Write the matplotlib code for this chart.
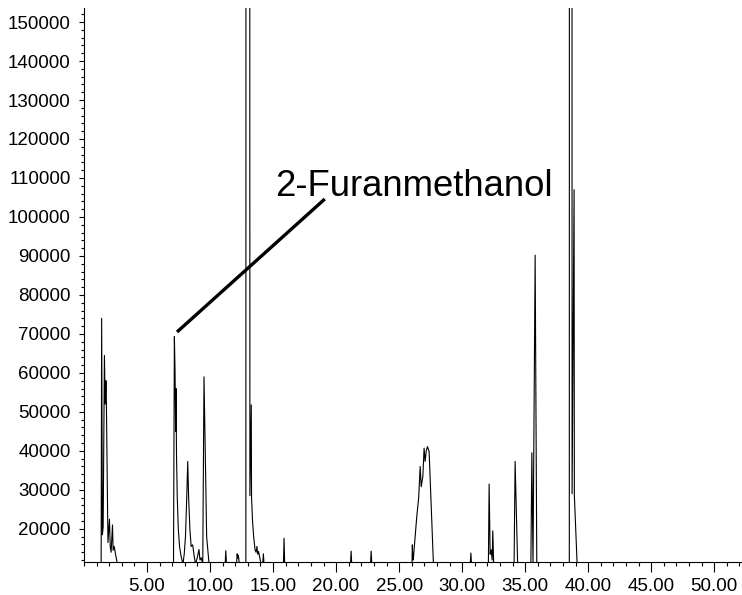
import matplotlib
matplotlib.use("Agg")
import matplotlib.pyplot as plt
from matplotlib.ticker import MultipleLocator, FormatStrFormatter

plt.rcParams.update({
    "font.family": ["Liberation Sans", "DejaVu Sans"],
    "font.size": 13.5,
})

# ── Data (retention time in min, abundance) ───────────────────────────────────
BASE = 11000
TOP = 3.0e6   # peaks that run off the top of the plot

rt = [
    0.0, 1.36, 1.40, 1.46, 1.52, 1.62, 1.68, 1.74, 1.77, 1.90, 2.02, 2.08,
    2.15, 2.26, 2.31, 2.40, 2.50, 2.65,
    7.10, 7.17, 7.22, 7.27, 7.30, 7.34, 7.40, 7.48, 7.58, 7.70, 7.85,
    7.95, 8.05, 8.15, 8.23, 8.30, 8.40, 8.50, 8.62, 8.75, 8.85, 9.00,
    9.12, 9.20, 9.30, 9.42, 9.52, 9.73, 9.92,
    11.20, 11.25, 11.30, 12.10, 12.15, 12.20, 12.25, 12.32,
    12.84, 13.00, 13.16, 13.27, 13.29, 13.37, 13.46, 13.57, 13.65, 13.72,
    13.78, 13.85, 13.95, 14.05, 14.18, 14.23, 14.28,
    15.82, 15.87, 15.92,
    21.14, 21.19, 21.24, 22.73, 22.78, 22.83,
    26.02, 26.05, 26.08, 26.12, 26.40, 26.55, 26.67, 26.75, 26.88, 26.98,
    27.06, 27.15, 27.25, 27.38, 27.72,
    30.64, 30.69, 30.74,
    32.08, 32.14, 32.22, 32.30, 32.38, 32.43, 32.50,
    34.12, 34.20, 34.40,
    35.45, 35.53, 35.62, 35.79, 35.92,
    38.50, 38.61, 38.72, 38.88, 38.90, 39.12,
    52.2,
]
abundance = [
    BASE, BASE, 74000, 18500, 20500, 64500, 52000, 58000, 54000, 16500, 22500, 15500,
    14000, 21000, 14500, 15500, 13500, BASE,
    BASE, 69300, 60800, 45000, 56000, 38500, 28000, 20000, 15500, 13000, BASE,
    13500, 18000, 28000, 37300, 28000, 20000, 15500, 15900, 12800, BASE, 12800,
    14700, 12000, 12600, BASE, 59000, 18000, BASE,
    BASE, 14400, BASE, BASE, 13600, 12500, 13200, BASE,
    BASE, TOP, 28500, 51800, 28300, 22000, 18000, 14600, 14000, 15500,
    13500, 14200, 12500, BASE, BASE, 13600, BASE,
    BASE, 17600, BASE,
    BASE, 14300, BASE, BASE, 14300, BASE,
    BASE, 15900, 12500, 12000, 23200, 28000, 36000, 30800, 33400, 40700,
    37300, 40000, 41100, 39800, BASE,
    BASE, 13800, BASE,
    BASE, 31500, 13500, 14600, 12000, 19500, BASE,
    BASE, 37300, BASE,
    BASE, 39500, BASE, 90200, BASE,
    BASE, TOP, 29000, 107000, 28700, BASE,
    BASE,
]

label = "2-Furanmethanol"
label_xy = (15.15, 105300)        # text baseline start
pointer_from = (7.38, 70500)      # near the peak apex
pointer_to = (19.1, 104600)

# ── Plot ──────────────────────────────────────────────────────────────────────
fig = plt.figure(figsize=(7.42, 5.95), dpi=100)
ax = fig.add_axes([84 / 742, 1 - 562 / 595, 1 - 84 / 742, (562 - 8) / 595])

ax.plot(rt, abundance, color="black", lw=0.8)

ax.plot([pointer_from[0], pointer_to[0]], [pointer_from[1], pointer_to[1]],
        color="black", lw=2.4, solid_capstyle="butt")
ax.text(label_xy[0], label_xy[1], label, fontsize=26.3,
        ha="left", va="baseline")

ax.set_xlim(0.0, 52.2)
ax.set_ylim(11500, 153600)

ax.xaxis.set_minor_locator(MultipleLocator(1))
ax.xaxis.set_major_formatter(FormatStrFormatter("%.2f"))
ax.yaxis.set_minor_locator(MultipleLocator(2000))
ax.set_xticks(list(range(5, 55, 5)))
ax.set_yticks(list(range(20000, 160000, 10000)))
ax.yaxis.set_major_formatter(FormatStrFormatter("%d"))

ax.tick_params(axis="x", which="major", length=7.5, width=0.8, pad=4, labelsize=13.5)
ax.tick_params(axis="x", which="minor", length=3, width=0.8)
ax.tick_params(axis="y", which="major", length=3.5, width=0.8, pad=6, labelsize=13.5)
ax.tick_params(axis="y", which="minor", length=2.2, width=0.8)

for side in ("top", "right"):
    ax.spines[side].set_visible(False)
for side in ("left", "bottom"):
    ax.spines[side].set_linewidth(0.8)

fig.savefig("out.png", dpi=100)
